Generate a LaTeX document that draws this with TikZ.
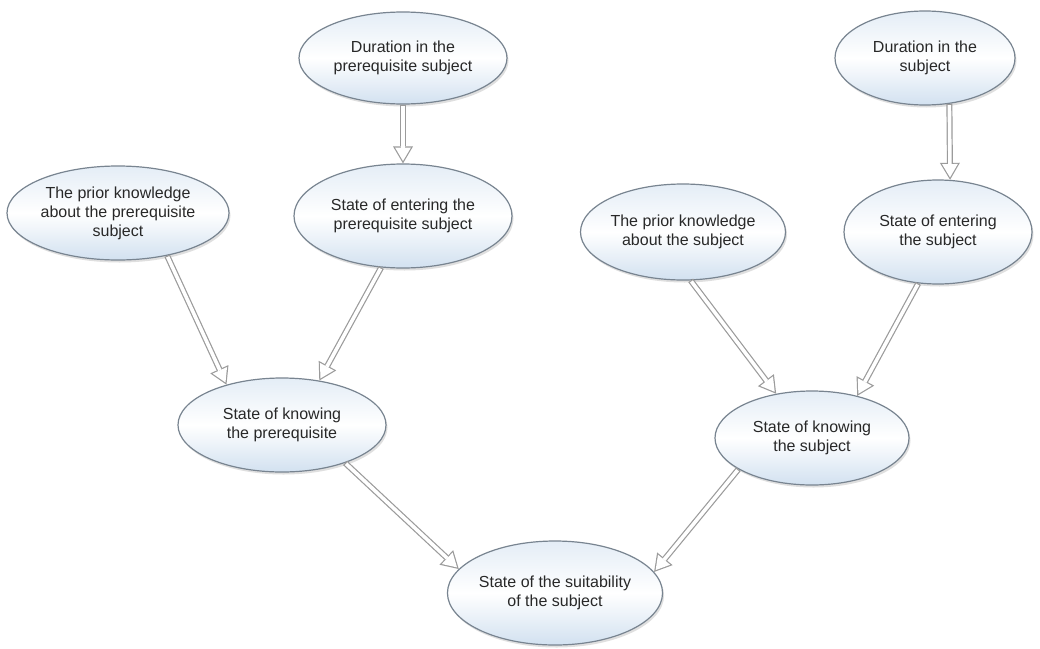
\documentclass[tikz,border=0pt]{standalone}
\usepackage{fontspec}
\setmainfont{Liberation Sans}
\usetikzlibrary{shapes.geometric,arrows.meta,shadows}
\definecolor{bordergray}{RGB}{120,132,144}
\definecolor{fillblue}{RGB}{210,225,240}
\definecolor{arrowgray}{RGB}{155,155,155}
\definecolor{textgray}{RGB}{40,40,40}
\tikzset{
  bub/.style={ellipse, draw=bordergray, line width=1.2pt, inner sep=0pt,
    top color=white!40!fillblue, bottom color=fillblue, middle color=white,
    drop shadow={shadow xshift=1.5pt, shadow yshift=-2.5pt, opacity=0.25, fill=gray},
    align=center, text=textgray, font=\fontsize{16}{19}\selectfont},
  conn/.style={draw=arrowgray, line width=6pt,
    -{Triangle[length=17pt,width=20pt,line width=0pt]},
    postaction={draw=white, line width=3.6pt,
      -{Triangle[length=13.4pt,width=15.8pt,line width=0pt]}, shorten >=2.4pt, shorten <=1.2pt}}
}
\begin{document}
\begin{tikzpicture}[x=1pt,y=-1pt]
\useasboundingbox (0,0) rectangle (1040,648);
\fill[white] (0,0) rectangle (1040,648);
\node[bub, minimum width=208pt, minimum height=92pt] (d1) at (403,58) {Duration in the\\prerequisite subject};
\node[bub, minimum width=180pt, minimum height=94pt] (d2) at (925,58) {Duration in the\\subject};
\node[bub, minimum width=222pt, minimum height=94pt] (p1) at (118,213) {The prior knowledge\\about the prerequisite\\subject};
\node[bub, minimum width=218pt, minimum height=104pt] (e1) at (403,216) {State of entering the\\prerequisite subject};
\node[bub, minimum width=198pt, minimum height=96pt] (p2) at (683,232) {The prior knowledge\\about the subject};
\node[bub, minimum width=188pt, minimum height=104pt] (e2) at (938,232) {State of entering\\the subject};
\node[bub, minimum width=208pt, minimum height=94pt] (k1) at (282,425) {State of knowing\\the prerequisite};
\node[bub, minimum width=194pt, minimum height=94pt] (k2) at (812,438) {State of knowing\\the subject};
\node[bub, minimum width=192pt, minimum height=104pt] (s) at (555,593) {State of the suitability\\of the subject};
\draw[conn] (d1.south) -- (e1.north);
\draw[conn] (d2.-62) -- (e2.77);
\draw[conn] (p1.-41) -- (k1.144);
\draw[conn] (e1.-113) -- (k1.50);
\draw[conn] (p2.-81) -- (k2.129);
\draw[conn] (e2.-111) -- (k2.43);
\draw[conn] (k1.-31) -- (s.166);
\draw[conn] (k2.-157) -- (s.12);
\end{tikzpicture}
\end{document}
